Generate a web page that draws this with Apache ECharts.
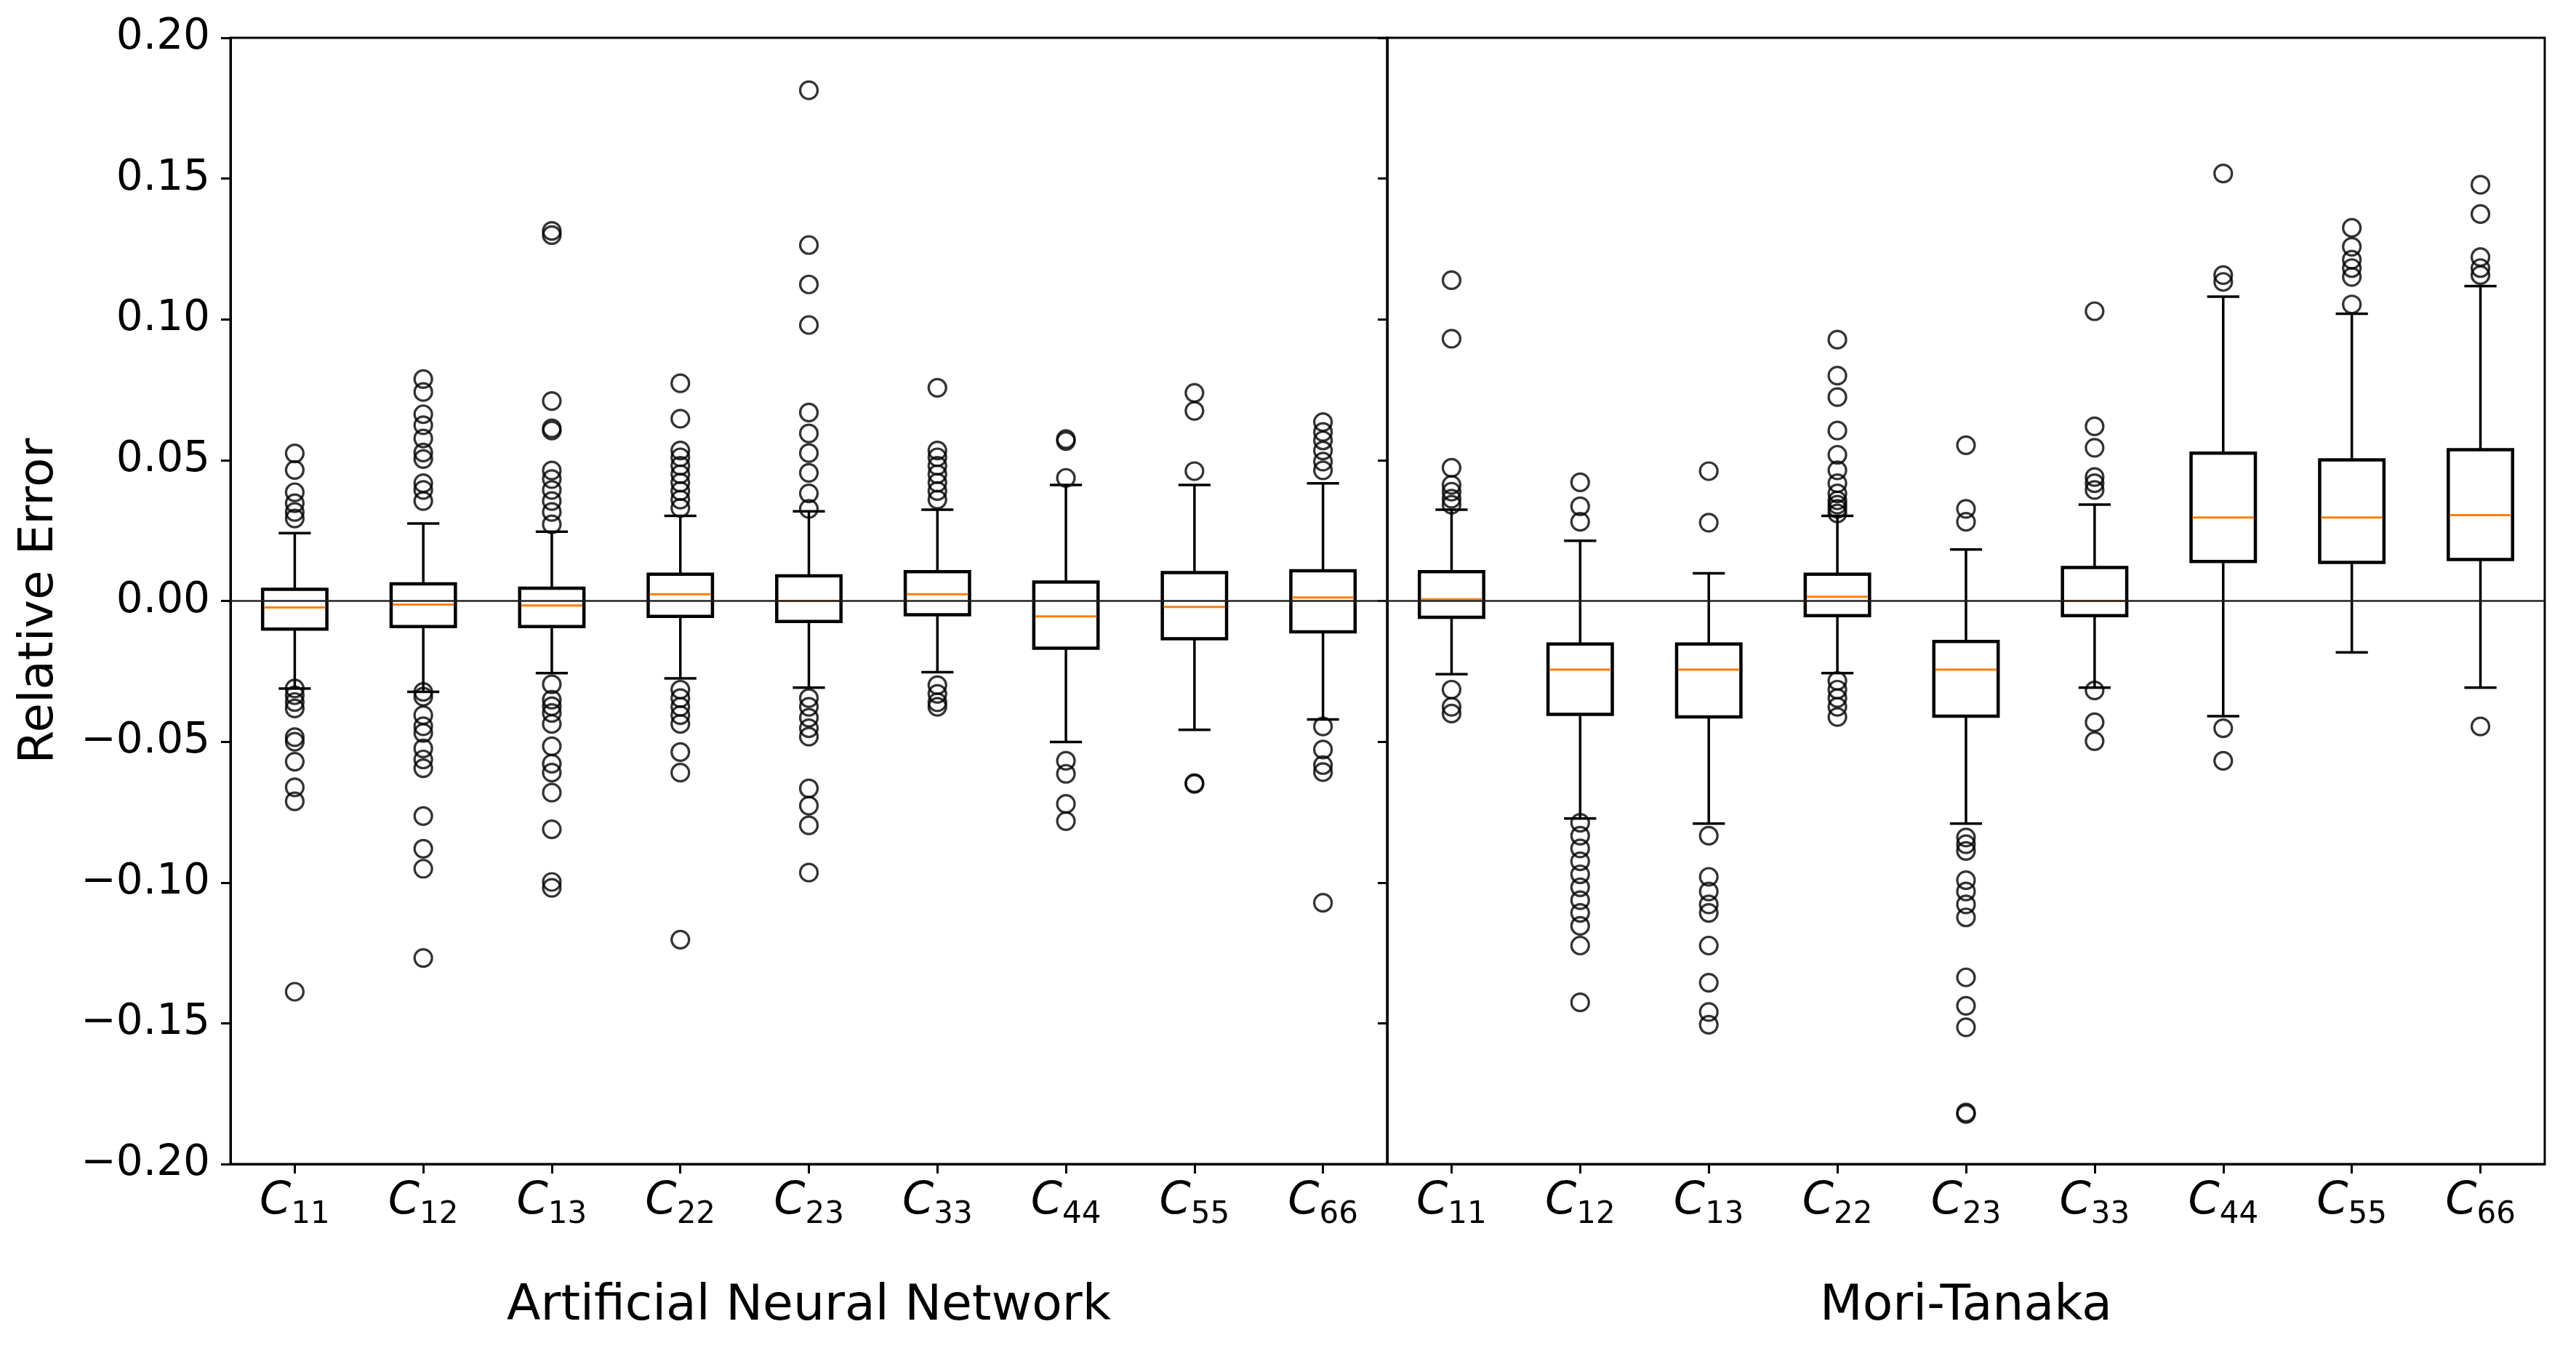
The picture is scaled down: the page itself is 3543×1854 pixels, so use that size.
<!DOCTYPE html>
<html>
<head>
<meta charset="utf-8">
<script src="https://cdn.jsdelivr.net/npm/echarts@6/dist/echarts.min.js"></script>
<style>
html,body{margin:0;padding:0;background:#fff;}
#chart{width:3543px;height:1854px;}
</style>
</head>
<body>
<div id="chart"></div>
<script>
// ---- data ----
const groups = ['Artificial Neural Network', 'Mori-Tanaka'];
const components = ['11', '12', '13', '22', '23', '33', '44', '55', '66'];
const yTicks = [-0.20, -0.15, -0.10, -0.05, 0.00, 0.05, 0.10, 0.15, 0.20];

// [lower whisker, Q1, median, Q3, upper whisker]
const annStats = [
  [-0.0311, -0.0100, -0.0023, 0.0041, 0.0241],
  [-0.0323, -0.0091, -0.0013, 0.0061, 0.0275],
  [-0.0256, -0.0091, -0.0016, 0.0045, 0.0246],
  [-0.0275, -0.0055, 0.0024, 0.0095, 0.0302],
  [-0.0308, -0.0073, 0.0000, 0.0089, 0.0318],
  [-0.0253, -0.0049, 0.0024, 0.0104, 0.0324],
  [-0.0501, -0.0168, -0.0055, 0.0067, 0.0412],
  [-0.0458, -0.0134, -0.0021, 0.0101, 0.0412],
  [-0.0421, -0.0110, 0.0012, 0.0107, 0.0418]
];
const mtStats = [
  [-0.0260, -0.0058, 0.0006, 0.0104, 0.0324],
  [-0.0773, -0.0403, -0.0244, -0.0153, 0.0214],
  [-0.0791, -0.0412, -0.0244, -0.0153, 0.0098],
  [-0.0256, -0.0052, 0.0015, 0.0095, 0.0302],
  [-0.0791, -0.0409, -0.0244, -0.0144, 0.0183],
  [-0.0308, -0.0052, 0.0000, 0.0119, 0.0342],
  [-0.0409, 0.0140, 0.0296, 0.0525, 0.1081],
  [-0.0183, 0.0137, 0.0296, 0.0501, 0.1020],
  [-0.0308, 0.0147, 0.0305, 0.0537, 0.1118]
];

const annOutliers = [
  [0.0524, 0.0465, 0.0386, 0.0347, 0.0316, 0.0293, -0.0311, -0.0335, -0.0359, -0.0382, -0.0484, -0.0500, -0.0571, -0.0662, -0.0712, -0.1388],
  [0.0788, 0.0742, 0.0663, 0.0624, 0.0577, 0.0527, 0.0504, 0.0418, 0.0394, 0.0355, -0.0323, -0.0340, -0.0406, -0.0445, -0.0469, -0.0524, -0.0563, -0.0594, -0.0764, -0.0880, -0.0951, -0.1268],
  [0.1314, 0.1299, 0.0710, 0.0613, 0.0605, 0.0463, 0.0433, 0.0394, 0.0355, 0.0316, 0.0272, -0.0296, -0.0351, -0.0374, -0.0398, -0.0437, -0.0516, -0.0578, -0.0610, -0.0681, -0.0811, -0.0998, -0.1019],
  [0.0773, 0.0647, 0.0534, 0.0510, 0.0480, 0.0450, 0.0420, 0.0390, 0.0360, 0.0330, -0.0315, -0.0345, -0.0376, -0.0406, -0.0437, -0.0537, -0.0610, -0.1203],
  [0.1814, 0.1264, 0.1124, 0.0980, 0.0669, 0.0595, 0.0525, 0.0455, 0.0382, 0.0327, -0.0345, -0.0376, -0.0415, -0.0452, -0.0482, -0.0666, -0.0727, -0.0797, -0.0965],
  [0.0757, 0.0534, 0.0510, 0.0480, 0.0450, 0.0420, 0.0390, 0.0360, -0.0299, -0.0330, -0.0360, -0.0376],
  [0.0568, 0.0575, 0.0437, -0.0568, -0.0614, -0.0721, -0.0782],
  [0.0739, 0.0675, 0.0461, -0.0647, -0.0650],
  [0.0635, 0.0600, 0.0570, 0.0534, 0.0495, 0.0464, -0.0446, -0.0528, -0.0583, -0.0608, -0.1072]
];
const mtOutliers = [
  [0.1139, 0.0931, 0.0473, 0.0412, 0.0388, 0.0363, 0.0342, -0.0315, -0.0376, -0.0400],
  [0.0421, 0.0336, 0.0281, -0.0788, -0.0834, -0.0879, -0.0925, -0.0971, -0.1017, -0.1063, -0.1108, -0.1154, -0.1224, -0.1426],
  [0.0461, 0.0278, -0.0834, -0.0980, -0.1032, -0.1078, -0.1108, -0.1224, -0.1356, -0.1460, -0.1505],
  [0.0928, 0.0800, 0.0724, 0.0605, 0.0519, 0.0464, 0.0418, 0.0382, 0.0357, 0.0342, 0.0327, 0.0311, -0.0284, -0.0315, -0.0345, -0.0376, -0.0412],
  [0.0553, 0.0327, 0.0281, -0.0840, -0.0864, -0.0888, -0.0992, -0.1032, -0.1078, -0.1124, -0.1337, -0.1438, -0.1514, -0.1817, -0.1822],
  [0.1029, 0.0620, 0.0544, 0.0440, 0.0418, 0.0394, -0.0318, -0.0431, -0.0498],
  [0.1518, 0.1157, 0.1133, -0.0452, -0.0568],
  [0.1325, 0.1258, 0.1212, 0.1182, 0.1151, 0.1053],
  [0.1478, 0.1374, 0.1221, 0.1182, 0.1157, -0.0446]
];

// ---- chart ----
const FONT = 'DejaVu Sans';
const chart = echarts.init(document.getElementById('chart'), null, {renderer: 'canvas'});

function fmtY(v) {
  if (Math.abs(v) < 1e-9) return '0.00';
  return (v < 0 ? '\u2212' : '') + Math.abs(v).toFixed(2);
}

function renderBox(params, api) {
  const x = api.value(0);
  const lo = api.coord([x, api.value(1)]);
  const q1 = api.coord([x, api.value(2)]);
  const md = api.coord([x, api.value(3)]);
  const q3 = api.coord([x, api.value(4)]);
  const hi = api.coord([x, api.value(5)]);
  const band = api.size([1, 0])[0];
  const hw = band * 0.25;
  const cw = band * 0.125;
  const cx = md[0];
  const stroke = {stroke: '#000', lineWidth: 3.5, fill: null};
  return {
    type: 'group',
    children: [
      {type: 'line', shape: {x1: cx, y1: q1[1], x2: cx, y2: lo[1]}, style: stroke},
      {type: 'line', shape: {x1: cx, y1: q3[1], x2: cx, y2: hi[1]}, style: stroke},
      {type: 'line', shape: {x1: cx - cw, y1: lo[1], x2: cx + cw, y2: lo[1]}, style: stroke},
      {type: 'line', shape: {x1: cx - cw, y1: hi[1], x2: cx + cw, y2: hi[1]}, style: stroke},
      {type: 'rect', shape: {x: cx - hw, y: q3[1], width: 2 * hw, height: q1[1] - q3[1]}, style: {stroke: '#000', lineWidth: 4.5, fill: '#fff'}},
      {type: 'line', shape: {x1: cx - hw + 2, y1: md[1], x2: cx + hw - 2, y2: md[1]}, style: {stroke: '#ff7f0e', lineWidth: 3}}
    ]
  };
}

function boxData(stats) {
  return stats.map((s, i) => [i].concat(s));
}
function outlierData(outs) {
  const d = [];
  outs.forEach((arr, i) => arr.forEach(v => d.push([i, v])));
  return d;
}

const gridTop = 52, gridH = 1549;
const axisLineStyle = {color: '#000', width: 3};

function xAxisFor(i) {
  return {
    type: 'category',
    gridIndex: i,
    data: components,
    boundaryGap: true,
    name: groups[i],
    nameLocation: 'middle',
    nameGap: 162,
    nameTextStyle: {fontFamily: FONT, fontSize: 68, color: '#000'},
    axisLine: {show: true, onZero: false, lineStyle: axisLineStyle},
    axisTick: {show: true, alignWithLabel: true, length: 13, lineStyle: axisLineStyle},
    axisLabel: {
      margin: 13,
      formatter: v => '{c|C}{s|' + v + '}',
      rich: {
        c: {fontFamily: FONT, fontStyle: 'italic', fontSize: 62, lineHeight: 78, color: '#000'},
        s: {fontFamily: FONT, fontSize: 42, lineHeight: 42, verticalAlign: 'bottom', color: '#000'}
      }
    },
    splitLine: {show: false}
  };
}
function yAxisFor(i) {
  return {
    type: 'value',
    gridIndex: i,
    min: yTicks[0],
    max: yTicks[yTicks.length - 1],
    interval: 0.05,
    name: i === 0 ? 'Relative Error' : '',
    nameLocation: 'middle',
    nameGap: 229,
    nameRotate: 90,
    nameTextStyle: {fontFamily: FONT, fontSize: 66, color: '#000'},
    axisLine: {show: true, onZero: false, lineStyle: axisLineStyle},
    axisTick: {show: true, length: 13, lineStyle: axisLineStyle},
    axisLabel: {show: i === 0, margin: 28, fontFamily: FONT, fontSize: 58, color: '#000', formatter: fmtY},
    splitLine: {show: false}
  };
}

function seriesFor(i, stats, outs) {
  return [
    {
      type: 'scatter',
      xAxisIndex: i, yAxisIndex: i,
      data: outlierData(outs),
      symbol: 'circle',
      symbolSize: 24,
      itemStyle: {color: 'rgba(0,0,0,0)', borderColor: '#000', borderWidth: 3.2},
      silent: true,
      z: 3,
      markLine: {
        silent: true,
        symbol: 'none',
        label: {show: false},
        lineStyle: {color: '#222', width: 2.5, type: 'solid'},
        data: [{yAxis: 0}],
        animation: false
      }
    },
    {
      type: 'custom',
      xAxisIndex: i, yAxisIndex: i,
      data: boxData(stats),
      renderItem: renderBox,
      silent: true,
      z: 4
    }
  ];
}

const option = {
  animation: false,
  backgroundColor: '#fff',
  grid: [
    {left: 317, top: gridTop, width: 1591, height: gridH, show: true, borderColor: '#000', borderWidth: 3, backgroundColor: 'transparent'},
    {left: 1908, top: gridTop, width: 1592, height: gridH, show: true, borderColor: '#000', borderWidth: 3, backgroundColor: 'transparent'}
  ],
  xAxis: [xAxisFor(0), xAxisFor(1)],
  yAxis: [yAxisFor(0), yAxisFor(1)],
  series: [].concat(seriesFor(0, annStats, annOutliers), seriesFor(1, mtStats, mtOutliers))
};
chart.setOption(option);
</script>
</body>
</html>
